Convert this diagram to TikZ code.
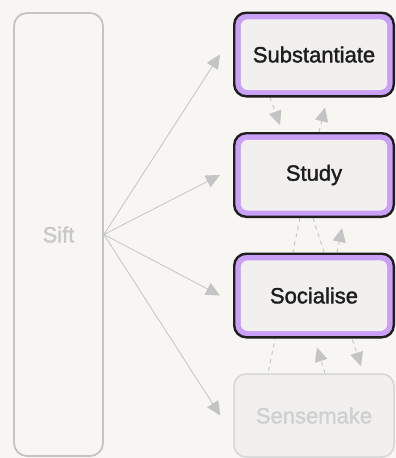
\documentclass[tikz,border=0pt]{standalone}
\usepackage{fontspec}
\setmainfont{Liberation Sans}
\newfontfamily\labelfont{Liberation Sans}[FakeBold=1.6]
\usetikzlibrary{arrows.meta,calc}
\pgfdeclarelayer{bg}
\pgfsetlayers{bg,main}
\definecolor{bgc}{HTML}{F7F6F3}
\definecolor{boxfill}{HTML}{F1F0EE}
\definecolor{purp}{HTML}{C9A0F6}
\definecolor{dark}{HTML}{1E1E1E}
\definecolor{faint}{HTML}{C4C4C4}
\definecolor{fainttext}{HTML}{C8C8C8}
\definecolor{senseborder}{HTML}{D6D6D6}
\definecolor{sensetext}{HTML}{D0D0D0}
\begin{document}
\begin{tikzpicture}[x=1pt,y=-1pt,
  lbl/.style={font=\labelfont\fontsize{22}{25}\selectfont},
  mainbox/.style={lbl, rectangle, rounded corners=12pt, draw=dark, line width=2.4pt,
    fill=purp, minimum width=159.6pt, minimum height=83.6pt, text=dark,
    path picture={\fill[boxfill, rounded corners=7pt]
      ([shift={(6.6pt,6.3pt)}]path picture bounding box.south west) rectangle
      ([shift={(-6.6pt,-6.6pt)}]path picture bounding box.north east);}},
  fadedbox/.style={lbl, rectangle, rounded corners=12pt, draw=senseborder, line width=1.5pt,
    fill=boxfill, minimum width=160pt, minimum height=83pt, text=sensetext},
  siftbox/.style={lbl, rectangle, rounded corners=13pt, draw=faint, line width=1.8pt,
    fill=bgc, minimum width=89pt, minimum height=443pt, text=fainttext},
  flow/.style={draw=faint, line width=0.8pt, -{Triangle[length=14pt,width=13pt]}},
  dashflow/.style={draw=faint, line width=0.9pt, dash pattern=on 4pt off 4pt,
    -{Triangle[length=14pt,width=13pt]}},
  dashline/.style={draw=faint, line width=0.9pt, dash pattern=on 4pt off 4pt},
]
\useasboundingbox (0,0) rectangle (396,458);

\node[siftbox] (sift) at (58.5,234.5) {Sift};
\node[mainbox] (sub) at (314,54.5) {Substantiate};
\node[mainbox] (stu) at (314,175) {Study};
\node[mainbox] (soc) at (314,295.5) {Socialise};
\node[fadedbox] (sen) at (314,415.5) {Sensemake};

\begin{pgfonlayer}{bg}
\fill[bgc] (0,0) rectangle (396,458);
\draw[flow] (sift.east) -- ([xshift=-13pt]sub.west);
\draw[flow] (sift.east) -- ([xshift=-13pt]stu.west);
\draw[flow] (sift.east) -- ([xshift=-13pt]soc.west);
\draw[flow] (sift.east) -- ([xshift=-13pt]sen.west);

\draw[dashflow] ([xshift=-44pt]sub.south) -- ([xshift=-34pt,yshift=7pt]stu.north);
\draw[dashflow] ([xshift=5pt]stu.north) -- ([xshift=11pt,yshift=-10pt]sub.south);
\draw[dashline] ([xshift=-14pt]stu.south) -- ([xshift=-46pt]sen.north);
\draw[dashflow] ([xshift=-1pt]stu.south) -- ([xshift=47pt,yshift=7pt]sen.north);
\draw[dashflow] ([xshift=23pt]soc.north) -- ([xshift=28pt,yshift=-10pt]stu.south);
\draw[dashflow] ([xshift=11pt]sen.north) -- ([xshift=3pt,yshift=-9pt]soc.south);
\end{pgfonlayer}
\end{tikzpicture}
\end{document}
